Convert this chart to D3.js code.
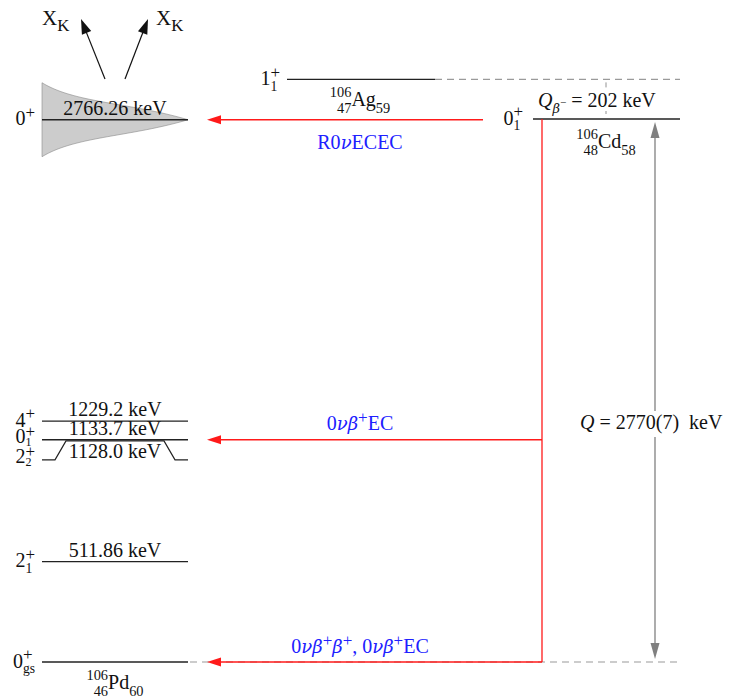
<!DOCTYPE html>
<html>
<head>
<meta charset="utf-8">
<script src="https://cdn.jsdelivr.net/npm/d3@7"></script>
<style>
  html, body { margin: 0; padding: 0; background: #fff; }
  svg { display: block; font-family: "Liberation Serif", "DejaVu Serif", serif; }
  svg text { white-space: pre; }
</style>
</head>
<body>
<svg id="chart" width="730" height="699"></svg>
<script>
// ---- Level scheme data (energies in keV) ----
const pdEnergies = [0, 511.86, 1128.0, 1133.7, 1229.2, 2766.26];
const pdSpinBase = ["0", "2", "2", "0", "4", "0"];
const pdSpinSub  = ["gs", "1", "2", "1", "", ""];
const pdEnergyLabels = ["", "511.86 keV", "1128.0 keV", "1133.7 keV", "1229.2 keV", "2766.26 keV"];
const pdDisplayShift = [0, 0, 19, 0, 0, 0];   // 2+2 drawn below the 0+1 level for legibility

const qValue = 2770;          // 106Cd -> 106Pd
const qValueErr = 7;
const qBetaMinus = 202;       // 106Ag -> 106Cd
const agEnergy = qValue + qBetaMinus;

const PLUS = {t: "+", sc: "sup", fs: 0.85, dy: -0.36};
const NU = {t: "ν", it: 1, gr: 1};
const BETA = {t: "β", it: 1, gr: 1};
const decayTargets = [2766.26, 1133.7, 0];
const decayModes = [
  [{t:"R0"}, NU, {t:"ECEC"}],
  [{t:"0"}, NU, BETA, PLUS, {t:"EC"}],
  [{t:"0"}, NU, BETA, PLUS, BETA, PLUS, {t:", "}, {t:"0"}, NU, BETA, PLUS, {t:"EC"}]
];

// ---- Layout ----
const svg = d3.select("#chart");
const FS = 20;
const y = d3.scaleLinear().domain([0, qValue]).range([662, 119]);
const col = {
  pd: [42, 188],
  ag: [287, 435],
  cd: [533, 680]
};
const xDecay = 542;     // vertical red line under 106Cd
const xQ = 655;         // Q-value double arrow
const arrowTipX = 207;

// rich text: one <text> made of tspans, with super/subscripts and stacked scripts
function rich(parent, x, yy, segs, opt = {}) {
  const size = opt.size || FS;
  const text = parent.append("text").attr("fill", opt.fill || "#111");
  let cx = 0, lastStart = 0, lastW = 0;
  const spans = [];
  segs.forEach(s => {
    let fs = s.fs ? size * s.fs : s.sc ? size * 0.72 : size;
    if (s.gr) fs *= 0.9;
    let dy = s.sc === "sup" ? -size * 0.42 : s.sc === "sub" ? size * 0.33 : 0;
    if (s.dy !== undefined) dy = s.dy * size;
    const t = text.append("tspan")
      .attr("x", 0).attr("y", yy + dy)
      .attr("font-size", fs)
      .attr("font-style", s.it ? "italic" : null)
      .attr("font-family", s.gr ? "DejaVu Serif" : null)
      .text(s.t);
    const w = t.node().getComputedTextLength();
    let start;
    if (s.stack === "right") start = lastStart + lastW - w;
    else if (s.stack) start = lastStart;
    else start = cx + (s.gap || 0);
    spans.push([t, start]);
    if (s.stack) {
      cx = Math.max(cx, start + w);
    } else {
      lastStart = start; lastW = w; cx = start + w;
    }
  });
  const off = opt.anchor === "middle" ? -cx / 2 : opt.anchor === "end" ? -cx : 0;
  spans.forEach(([t, start]) => t.attr("x", x + off + start));
  return text;
}

// spin-parity label J^pi_n; "tight" packs it for closely spaced levels
function spinLabel(x, ly, base, sub, tight) {
  const segs = [{t: base}, {...PLUS, dy: tight ? -0.3 : -0.36}];
  if (sub) segs.push({t: sub, sc: "sub", stack: true, dy: tight ? 0.15 : 0.28, fs: tight ? 0.6 : 0.68});
  rich(svg, x, ly + (tight ? 3.5 : 5.5), segs, {anchor: "end"});
}

function nuclide(x, yy, A, Z, sym, N) {
  rich(svg, x, yy, [
    {t: A, sc: "sup", dy: -0.45}, {t: Z, sc: "sub", stack: "right"},
    {t: sym}, {t: N, sc: "sub"}
  ], {anchor: "middle"});
}

function arrowHead(x, yy, dir, color, len = 14, half = 4.5) {
  // dir: unit vector [dx, dy] pointing to the tip
  const [dx, dy] = dir;
  const bx = x - dx * len, by = yy - dy * len;
  const px = -dy * half, py = dx * half;
  svg.append("path")
    .attr("d", `M${x},${yy}L${bx + px},${by + py}L${bx - px},${by - py}Z`)
    .attr("fill", color);
}

// ---- Broadened 2766.26 keV resonance (shaded) ----
const resY = y(pdEnergies[5]);
const span = col.pd[1] - col.pd[0];
const halfW = x => {
  const t = x - col.pd[0];
  return 37 / (1 + t / 60) * (1 - Math.pow(t / span, 4));
};
const xs = d3.range(col.pd[0], col.pd[1] + 0.5, 1);
svg.append("path")
  .datum(xs)
  .attr("d", d3.area().x(d => d).y0(d => resY + halfW(d)).y1(d => resY - halfW(d)))
  .attr("fill", "#cccccc")
  .attr("stroke", "#8a8a8a")
  .attr("stroke-width", 0.6);

// ---- Dashed reference lines ----
svg.append("line")
  .attr("x1", col.ag[1]).attr("x2", col.cd[1])
  .attr("y1", y(agEnergy)).attr("y2", y(agEnergy))
  .attr("stroke", "#9a9a9a").attr("stroke-width", 1.2).attr("stroke-dasharray", "7,5");
svg.append("line")
  .attr("x1", col.pd[1] + 2).attr("x2", col.cd[1])
  .attr("y1", y(0)).attr("y2", y(0))
  .attr("stroke", "#9a9a9a").attr("stroke-width", 1.2).attr("stroke-dasharray", "7,5");

// ---- 106Pd levels ----
const drawnY = pdEnergies.map((e, i) => y(e) + pdDisplayShift[i]);
pdEnergies.forEach((e, i) => {
  const ly = drawnY[i];
  if (pdDisplayShift[i]) {
    const yTop = y(e);
    svg.append("path")
      .attr("d", d3.line()([
        [col.pd[0], ly], [col.pd[0] + 13, ly], [col.pd[0] + 24, yTop],
        [col.pd[1] - 24, yTop], [col.pd[1] - 13, ly], [col.pd[1], ly]
      ]))
      .attr("fill", "none").attr("stroke", "#222").attr("stroke-width", 1.2);
  } else {
    svg.append("line")
      .attr("x1", col.pd[0]).attr("x2", col.pd[1])
      .attr("y1", ly).attr("y2", ly)
      .attr("stroke", "#222").attr("stroke-width", 1.3);
  }
  const tight = pdSpinSub[i] !== "" &&
    drawnY.some((o, j) => j !== i && Math.abs(o - ly) < 25);
  spinLabel(35, ly, pdSpinBase[i], pdSpinSub[i], tight);
  if (pdEnergyLabels[i]) {
    const by = pdDisplayShift[i] ? ly - 2 : ly - 5;
    rich(svg, (col.pd[0] + col.pd[1]) / 2, by, [{t: pdEnergyLabels[i]}], {anchor: "middle"});
  }
});
nuclide(115, 689, "106", "46", "Pd", "60");

// ---- 106Ag level ----
const agY = y(agEnergy);
svg.append("line")
  .attr("x1", col.ag[0]).attr("x2", col.ag[1]).attr("y1", agY).attr("y2", agY)
  .attr("stroke", "#222").attr("stroke-width", 1.3);
spinLabel(280, agY, "1", "1");
nuclide(360, 106, "106", "47", "Ag", "59");

// ---- 106Cd level ----
const cdY = y(qValue);
svg.append("line")
  .attr("x1", col.cd[0]).attr("x2", col.cd[1]).attr("y1", cdY).attr("y2", cdY)
  .attr("stroke", "#222").attr("stroke-width", 1.3);
spinLabel(523, cdY, "0", "1");
nuclide(606, 148, "106", "48", "Cd", "58");

// Q(beta-) marker between Ag and Cd
svg.append("line").attr("x1", 606).attr("x2", 606).attr("y1", agY + 3).attr("y2", agY + 8)
  .attr("stroke", "#777").attr("stroke-width", 0.8);
svg.append("line").attr("x1", 606).attr("x2", 606).attr("y1", cdY - 8).attr("y2", cdY - 5)
  .attr("stroke", "#777").attr("stroke-width", 0.8);
rich(svg, 538, 107, [
  {t: "Q", it: 1}, {t: "β", it: 1, gr: 1, sc: "sub", dy: 0.28}, {t: "−", fs: 0.55, dy: -0.05},
  {t: " = " + qBetaMinus + " keV"}
]);

// ---- Double-beta decay transitions ----
const red = "#ff1a1a";
svg.append("line")
  .attr("x1", xDecay).attr("x2", xDecay).attr("y1", cdY).attr("y2", y(0))
  .attr("stroke", red).attr("stroke-width", 1.3);
decayTargets.forEach((e, i) => {
  const ty = y(e);
  const x0 = i === 0 ? 483 : xDecay;
  svg.append("line")
    .attr("x1", x0).attr("x2", arrowTipX + 10).attr("y1", ty).attr("y2", ty)
    .attr("stroke", red).attr("stroke-width", 1.3);
  arrowHead(arrowTipX, ty, [-1, 0], red);
});
rich(svg, 360, 149, decayModes[0], {anchor: "middle", fill: "#2020ff"});
rich(svg, 360, 430, decayModes[1], {anchor: "middle", fill: "#2020ff"});
rich(svg, 360, 653, decayModes[2], {anchor: "middle", fill: "#2020ff"});

// ---- Q-value double arrow ----
const grey = "#808080";
const qTop = cdY + 3, qBot = y(0) - 3;
svg.append("line").attr("x1", xQ).attr("x2", xQ).attr("y1", qTop + 10).attr("y2", 411)
  .attr("stroke", grey).attr("stroke-width", 1.3);
svg.append("line").attr("x1", xQ).attr("x2", xQ).attr("y1", 437).attr("y2", qBot - 10)
  .attr("stroke", grey).attr("stroke-width", 1.3);
arrowHead(xQ, qTop, [0, -1], grey, 16, 4.5);
arrowHead(xQ, qBot, [0, 1], grey, 16, 4.5);
rich(svg, 580, 429, [
  {t: "Q", it: 1}, {t: " = " + qValue + "(" + qValueErr + ")  keV"}
]);

// ---- K X-rays from the de-excitation ----
const xk = [[105, 79, 81, 19], [125, 79, 148, 19]];
xk.forEach(([x1, y1, x2, y2]) => {
  const L = Math.hypot(x2 - x1, y2 - y1);
  const d = [(x2 - x1) / L, (y2 - y1) / L];
  svg.append("line").attr("x1", x1).attr("y1", y1)
    .attr("x2", x2 - d[0] * 12).attr("y2", y2 - d[1] * 12)
    .attr("stroke", "#111").attr("stroke-width", 1.2);
  arrowHead(x2, y2, d, "#111", 15, 5);
});
rich(svg, 42, 25, [{t: "X"}, {t: "K", fs: 0.8, dy: 0.3}], {size: 21});
rich(svg, 156, 25, [{t: "X"}, {t: "K", fs: 0.8, dy: 0.3}], {size: 21});
</script>
</body>
</html>
